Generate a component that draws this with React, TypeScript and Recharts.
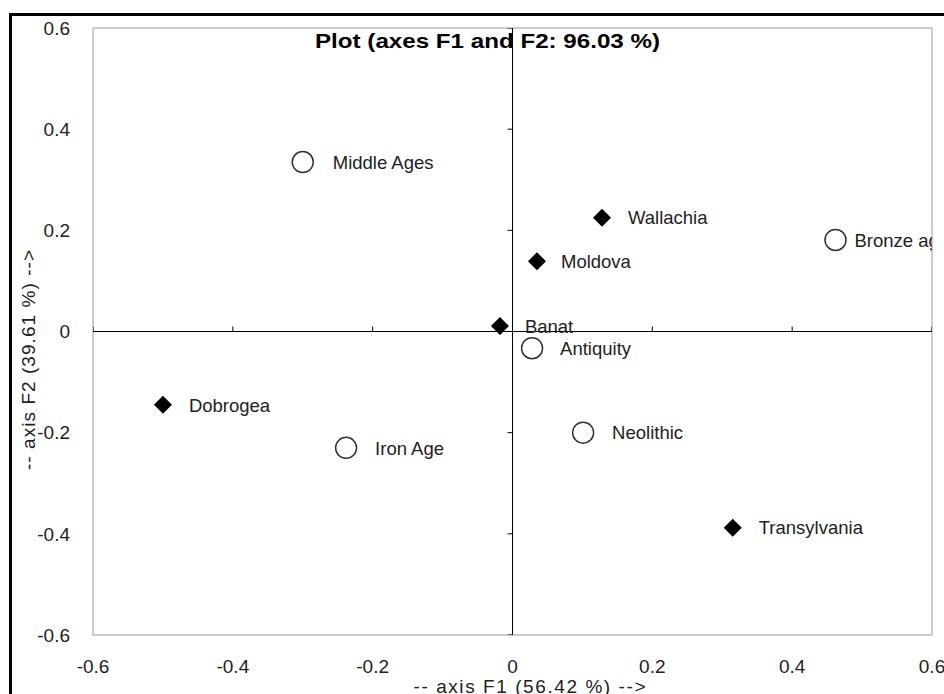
import React from 'react';
import { ScatterChart, Scatter, XAxis, YAxis, ReferenceLine, ReferenceArea } from 'recharts';

const FONT = '"Liberation Sans", Arial, Helvetica, sans-serif';

// Active observations (regions) – black diamonds
const regionNames = ['Wallachia', 'Moldova', 'Banat', 'Dobrogea', 'Transylvania'];
const regionF1 = [0.128, 0.035, -0.018, -0.5, 0.315];
const regionF2 = [0.225, 0.139, 0.011, -0.145, -0.388];

// Periods – open circles
const periodNames = ['Middle Ages', 'Bronze age', 'Antiquity', 'Iron Age', 'Neolithic'];
const periodF1 = [-0.3, 0.462, 0.028, -0.238, 0.101];
const periodF2 = [0.335, 0.181, -0.033, -0.23, -0.2];

// Axis ticks
const axisTicks = [-0.6, -0.4, -0.2, 0, 0.2, 0.4, 0.6];
const innerTicks = [-0.6, -0.4, -0.2, 0.2, 0.4, 0.6];

const titleText = 'Plot (axes F1 and F2: 96.03 %)';
const xTitle = '-- axis F1 (56.42 %) -->';
const yTitle = '-- axis F2 (39.61 %) -->';

// label horizontal offsets (layout only)
const labelDx: Record<string, number> = {
  'Middle Ages': 30,
  'Bronze age': 19,
  Antiquity: 28,
  'Iron Age': 29,
  Neolithic: 29,
  Wallachia: 26,
  Moldova: 24,
  Banat: 25,
  Dobrogea: 26,
  Transylvania: 26,
};

const regionData = regionNames.map((n, i) => ({ name: n, x: regionF1[i], y: regionF2[i] }));
const periodData = periodNames.map((n, i) => ({ name: n, x: periodF1[i], y: periodF2[i] }));
const xTickMarks = innerTicks.map((v) => ({ x: v, y: 0 }));
const yTickMarks = innerTicks.map((v) => ({ x: 0, y: v }));

const labelStyle = { fontFamily: FONT, fontSize: 18.5, fill: '#222' };

const Diamond = (props: any) => {
  const { cx, cy, payload } = props;
  if (cx == null || cy == null) return null;
  const h = 9;
  return (
    <g>
      <polygon points={`${cx},${cy - h} ${cx + h},${cy} ${cx},${cy + h} ${cx - h},${cy}`} fill="#000" />
      <text x={cx + (labelDx[payload.name] ?? 26)} y={cy} dy="0.36em" {...labelStyle}>
        {payload.name}
      </text>
    </g>
  );
};

const Ring = (props: any) => {
  const { cx, cy, payload } = props;
  if (cx == null || cy == null) return null;
  return (
    <g>
      <circle cx={cx} cy={cy} r={10.5} fill="#fff" stroke="#333" strokeWidth={1.5} />
      <text x={cx + (labelDx[payload.name] ?? 28)} y={cy} dy="0.36em" {...labelStyle}>
        {payload.name}
      </text>
    </g>
  );
};

const XTick = (props: any) => {
  const { cx, cy } = props;
  if (cx == null || cy == null) return null;
  return <line x1={cx} y1={cy} x2={cx} y2={cy - 5} stroke="#000" strokeWidth={1} />;
};

const YTick = (props: any) => {
  const { cx, cy } = props;
  if (cx == null || cy == null) return null;
  return <line x1={cx - 5} y1={cy} x2={cx} y2={cy} stroke="#000" strokeWidth={1} />;
};

export default function App() {
  return (
    <div
      style={{
        position: 'absolute',
        left: 0,
        top: 0,
        width: 944,
        height: 694,
        overflow: 'hidden',
        background: '#fff',
      }}
    >
      <div
        style={{
          position: 'absolute',
          left: 9,
          top: 13,
          width: 1200,
          height: 1200,
          borderLeft: '3px solid #000',
          borderTop: '3px solid #000',
        }}
      />
      <div style={{ position: 'absolute', left: 0, top: 0 }}>
        <ScatterChart width={944} height={694} margin={{ top: 28, right: 12, bottom: 19, left: 10 }}>
          <XAxis
            type="number"
            dataKey="x"
            domain={[-0.6, 0.6]}
            ticks={axisTicks}
            allowDataOverflow
            axisLine={false}
            tickLine={false}
            tickMargin={19}
            height={40}
            tick={{ fill: '#222', fontSize: 19, fontFamily: FONT }}
            label={{
              content: (p: any) => {
                const vb = p.viewBox || { x: 93, width: 839 };
                return (
                  <text
                    x={vb.x + vb.width / 2 + 17}
                    y={686}
                    dy="0.36em"
                    textAnchor="middle"
                    textLength={232}
                    lengthAdjust="spacing"
                    fontFamily={FONT}
                    fontSize={19}
                    fill="#222"
                  >
                    {xTitle}
                  </text>
                );
              },
            }}
          />
          <YAxis
            type="number"
            dataKey="y"
            domain={[-0.6, 0.6]}
            ticks={axisTicks}
            allowDataOverflow
            axisLine={false}
            tickLine={false}
            tickMargin={17}
            width={83}
            tick={{ fill: '#222', fontSize: 19, fontFamily: FONT }}
            label={{
              content: () => (
                <text
                  x={28}
                  y={360}
                  dy="0.36em"
                  textAnchor="middle"
                  transform="rotate(-90, 28, 360)"
                  textLength={220}
                  lengthAdjust="spacing"
                  fontFamily={FONT}
                  fontSize={19}
                  fill="#222"
                >
                  {yTitle}
                </text>
              ),
            }}
          />
          <ReferenceArea
            x1={-0.6}
            x2={0.6}
            y1={-0.6}
            y2={0.6}
            fill="none"
            stroke="#9a9a9a"
            strokeWidth={1}
            fillOpacity={0}
            label={{
              content: (p: any) => {
                const vb = p.viewBox || { x: 93, y: 28, width: 839 };
                return (
                  <text
                    x={vb.x + vb.width / 2 - 25}
                    y={48}
                    textAnchor="middle"
                    textLength={345}
                    lengthAdjust="spacingAndGlyphs"
                    fontFamily={FONT}
                    fontSize={21}
                    fontWeight="bold"
                    fill="#000"
                  >
                    {titleText}
                  </text>
                );
              },
            }}
          />
          <ReferenceLine x={0} stroke="#000" strokeWidth={1} />
          <ReferenceLine y={0} stroke="#000" strokeWidth={1} />
          <Scatter data={xTickMarks} shape={XTick} isAnimationActive={false} />
          <Scatter data={yTickMarks} shape={YTick} isAnimationActive={false} />
          <Scatter data={periodData} shape={Ring} isAnimationActive={false} />
          <Scatter data={regionData} shape={Diamond} isAnimationActive={false} />
        </ScatterChart>
      </div>
    </div>
  );
}
